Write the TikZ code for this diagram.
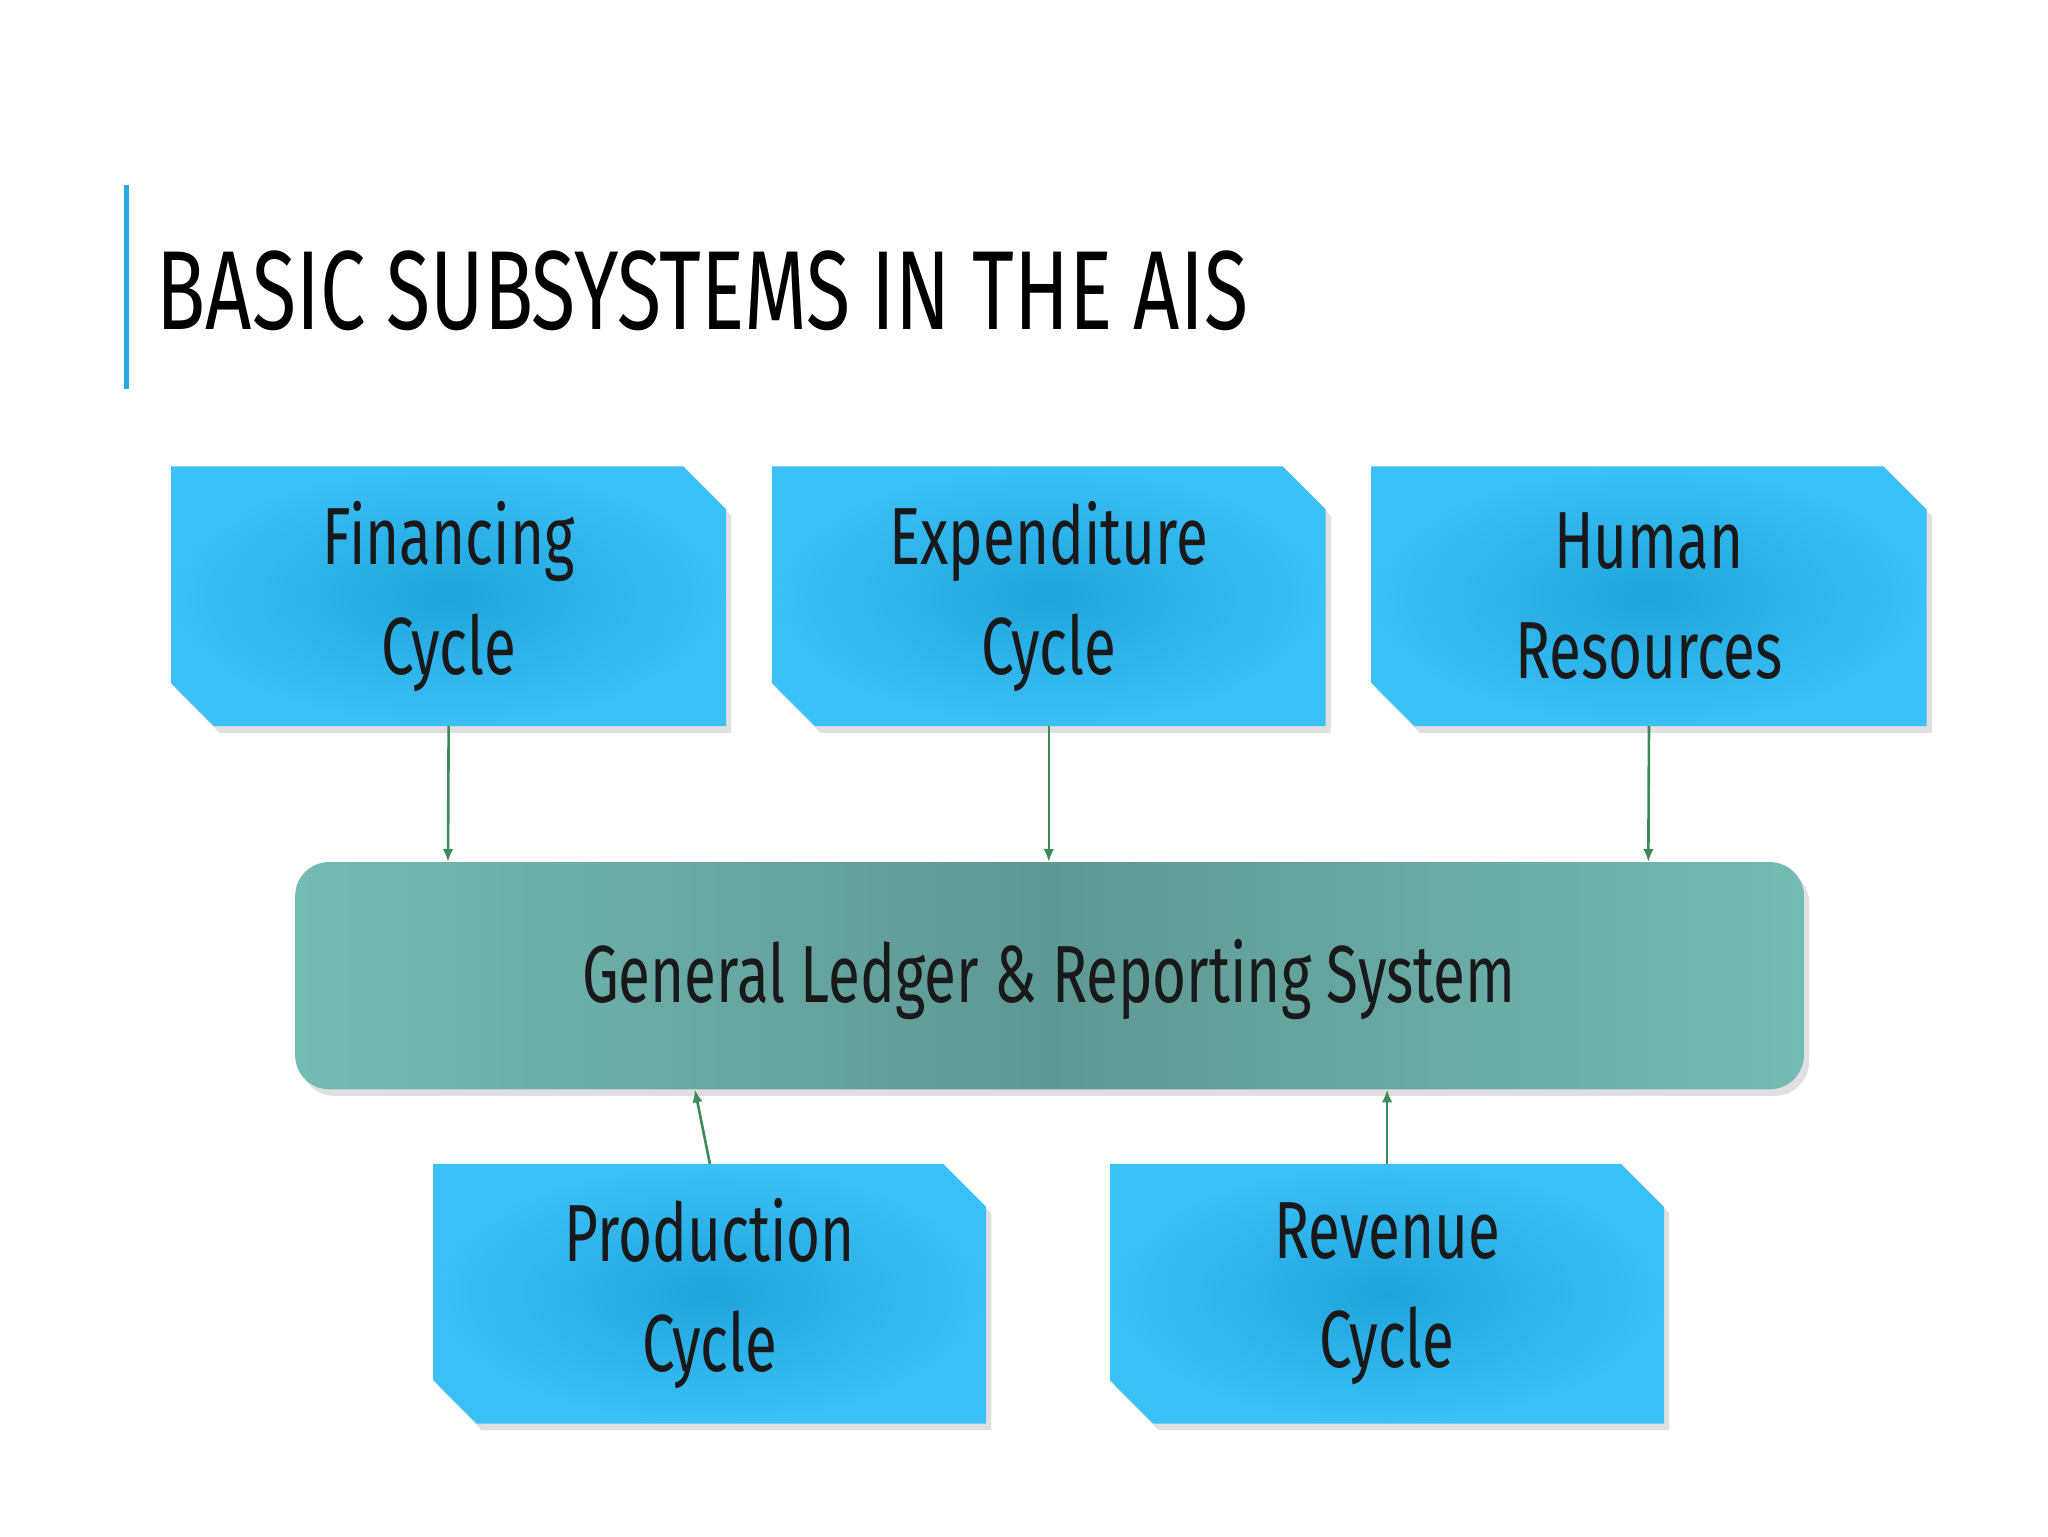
\documentclass[tikz,border=0pt]{standalone}
\usepackage{fontspec}
\setmainfont[FakeStretch=0.72]{Fira Sans}
\usetikzlibrary{arrows.meta,shadings}
\definecolor{boxout}{HTML}{3CC0F8}
\definecolor{boxin}{HTML}{1EA3DA}
\definecolor{glout}{HTML}{74BBB4}
\definecolor{glin}{HTML}{5E9893}
\definecolor{arr}{HTML}{3E8A5A}
\definecolor{bar}{HTML}{2AA7E0}
\tikzset{
  cyc/.style={inner color=boxin,outer color=boxout},
  lab/.style={font=\fontsize{62}{84}\selectfont,align=center,text=black!90},
  arrw/.style={draw=arr,line width=2pt,-{Latex[length=10pt,width=8pt]}}
}
\newcommand\cbox[5]{% name, x1,y1,x2,y2
  \fill[black!12] (#2+4,#3+5) -- (#4-33+4,#3+5) -- (#4+4,#3+33+5) -- (#4+4,#5+5) -- (#2+33+4,#5+5) -- (#2+4,#5-33+5) -- cycle;
  \shade[cyc] (#2,#3) -- (#4-33,#3) -- (#4,#3+33) -- (#4,#5) -- (#2+33,#5) -- (#2,#5-33) -- cycle;
  \coordinate (#1) at ({(#2+#4)/2},{(#3+#5)/2});
  \coordinate (#1t) at ({(#2+#4)/2},#3);
  \coordinate (#1b) at ({(#2+#4)/2},#5);
}
\begin{document}
\begin{tikzpicture}[x=1pt,y=-1pt]
\useasboundingbox (0,0) rectangle (1568,1176);
\fill[white] (0,0) rectangle (1568,1176);
\fill[bar] (95,142) rectangle (99,298);
\node[anchor=base west,inner sep=0,font=\fontsize{86}{90}\selectfont] (title) at (120,252) {BASIC SUBSYSTEMS IN THE AIS};
\cbox{fin}{131}{357}{556}{556}
\cbox{exp}{591}{357}{1015}{556}
\cbox{hum}{1050}{357}{1475}{556}
\cbox{pro}{332}{891}{755}{1090}
\cbox{rev}{850}{891}{1274}{1090}
\fill[black!12,rounded corners=26pt] (230,665) rectangle (1385,839);
\shade[left color=glout,right color=glout,middle color=glin,rounded corners=26pt] (226,660) rectangle (1381,834);
\node[lab] (finl) at (fin) {Financing\\Cycle};
\node[lab] (expl) at (exp) {Expenditure\\Cycle};
\node[lab] (huml) at (hum) {Human\\Resources};
\node[lab] (prol) at (pro) {Production\\Cycle};
\node[lab] (revl) at (rev) {Revenue\\Cycle};
\node[lab] (gl) at (803,750) {General Ledger \& Reporting System};
\coordinate (g1) at (343,660); \coordinate (g2) at (803,660); \coordinate (g3) at (1262,660);
\coordinate (g4) at (532,834); \coordinate (g5) at (1062,834);
\draw[arrw] (finb) -- (g1);
\draw[arrw] (expb) -- (g2);
\draw[arrw] (humb) -- (g3);
\draw[arrw] (prot) -- (g4);
\draw[arrw] (revt) -- (g5);
\end{tikzpicture}
\end{document}
